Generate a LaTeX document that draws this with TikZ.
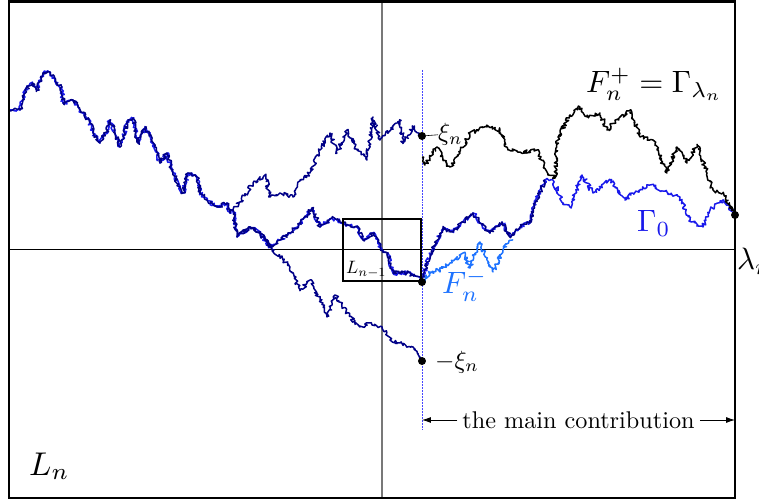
\documentclass[tikz,border=0pt]{standalone}
\usepackage{graphicx}
\usetikzlibrary{decorations.pathmorphing,arrows.meta}
\definecolor{navyc}{RGB}{0,0,135}
\definecolor{gblue}{RGB}{25,25,235}
\definecolor{fblue}{RGB}{30,115,255}
\definecolor{dashb}{RGB}{70,70,255}
\definecolor{axgray}{RGB}{120,120,120}
\newcommand\sbig[1]{\scalebox{3.1}{#1}}
\newcommand\sln[1]{\scalebox{3.3}{#1}}
\newcommand\sxi[1]{\scalebox{2.5}{#1}}
\newcommand\stxt[1]{\scalebox{2.43}{#1}}
\newcommand\ssml[1]{\scalebox{1.8}{#1}}
\tikzset{
  bm/.style={line width=1.5pt, line join=round, decorate,
    decoration={random steps, segment length=1.5pt, amplitude=2.1pt}},
  dot/.style={circle, fill=black, inner sep=0pt, minimum size=8pt},
  lbl/.style={inner sep=0pt},
  frame/.style={line width=2.5pt},
}
\begin{document}
\begin{tikzpicture}[x=1bp, y=-1bp]
\useasboundingbox (0,0) rectangle (759,502);
% axes
\draw[axgray, line width=1.3pt] (382,0) -- (382,498);
\draw[black, line width=0.8pt] (10,249) -- (735,249);
% dashed blue line
\draw[dashb, line width=1pt, dash pattern=on 2pt off 1pt] (422,70) -- (422,430);
% Gamma_0 (blue)
\pgfmathsetseed{11}
\draw[bm, gblue] (10,110) -- (20,110) -- (25,90) -- (32,83) -- (37,90) -- (43,73) -- (50,72) -- (57,83) -- (62,87) -- (63,103) -- (73,100) -- (78,107) -- (90,123) -- (93,133) -- (100,143) -- (107,130) -- (110,120) -- (115,133) -- (120,147) -- (128,120) -- (133,118) -- (138,143) -- (145,127) -- (155,147) -- (160,163) -- (167,153) -- (173,173) -- (183,193) -- (188,173) -- (197,177) -- (200,193) -- (207,200) -- (217,207) -- (227,203) -- (230,213) -- (233,210)
 -- (237,237) -- (250,227) -- (260,233) -- (270,247) -- (280,240) -- (290,233) -- (300,223) -- (312,208) -- (320,227) -- (332,218) -- (343,223) -- (357,227) -- (363,240) -- (373,233) -- (382,250) -- (388,253) -- (393,273) -- (407,273) -- (420,277) -- (422,282)
 -- (427,262) -- (435,245) -- (443,228) -- (453,232) -- (463,222) -- (473,213) -- (482,225) -- (490,233) -- (502,222) -- (510,237) -- (520,227) -- (530,223) -- (535,203) -- (545,180) -- (553,180) -- (563,203) -- (570,207) -- (582,175) -- (593,193) -- (610,180) -- (620,193) -- (625,200) -- (633,193) -- (650,185) -- (667,192) -- (680,197) -- (690,220) -- (703,227) -- (710,210) -- (723,200) -- (735,214);
% navy overlays
\pgfmathsetseed{23}
\draw[bm, navyc] (10,110) -- (20,110) -- (25,90) -- (32,83) -- (37,90) -- (43,73) -- (50,72) -- (57,83) -- (62,87) -- (63,103) -- (73,100) -- (78,107) -- (90,123) -- (93,133) -- (100,143) -- (107,130) -- (110,120) -- (115,133) -- (120,147) -- (128,120) -- (133,118) -- (138,143) -- (145,127) -- (155,147) -- (160,163) -- (167,153) -- (173,173) -- (183,193) -- (188,173) -- (197,177) -- (200,193) -- (207,200) -- (217,207) -- (227,203) -- (230,213) -- (233,210)
 -- (240,202) -- (253,183) -- (265,175) -- (270,197) -- (280,193) -- (293,197) -- (300,180) -- (310,173) -- (320,150) -- (330,133) -- (337,153) -- (347,130) -- (357,150) -- (367,160) -- (373,117) -- (380,140) -- (393,127) -- (400,120) -- (403,143) -- (413,127) -- (422,136);
\pgfmathsetseed{37}
\draw[bm, navyc] (233,210) -- (237,237) -- (250,227) -- (260,233) -- (270,247) -- (280,240) -- (290,233) -- (300,223) -- (312,208) -- (320,227) -- (332,218) -- (343,223) -- (357,227) -- (363,240) -- (373,233) -- (382,250) -- (388,253) -- (393,273) -- (407,273) -- (420,277) -- (422,282)
 -- (427,262) -- (435,245) -- (443,228) -- (453,232) -- (463,222) -- (473,213) -- (482,225) -- (490,233) -- (502,222) -- (510,237) -- (520,227) -- (530,223) -- (535,203) -- (545,180);
\pgfmathsetseed{41}
\draw[bm, navyc] (237,237) -- (250,227) -- (260,233) -- (270,247) -- (283,260) -- (290,267) -- (300,290) -- (310,280) -- (320,300) -- (327,317) -- (335,295) -- (347,313) -- (360,327) -- (370,323) -- (382,327) -- (390,340) -- (400,343) -- (413,347) -- (422,360);
% F_n^- (light blue)
\pgfmathsetseed{53}
\draw[bm, fblue] (422,282) -- (430,272) -- (440,270) -- (450,263) -- (460,257) -- (463,253) -- (470,268) -- (477,247) -- (480,242) -- (487,260) -- (493,272) -- (503,250) -- (512,240);
% F_n^+ (black)
\pgfmathsetseed{67}
\draw[bm, black] (422,157) -- (425,165) -- (433,153) -- (437,147) -- (443,160) -- (450,167) -- (460,153) -- (470,133) -- (487,127) -- (500,130) -- (508,150) -- (520,152) -- (537,150) -- (547,172) -- (555,178) -- (558,137) -- (570,115) -- (580,107) -- (587,117) -- (600,113) -- (607,130) -- (620,117) -- (630,110) -- (640,137) -- (653,140) -- (660,157) -- (667,173) -- (677,147) -- (687,163) -- (697,145) -- (707,173) -- (713,190) -- (723,193) -- (735,214);
% frame and small box
\draw[frame] (9,1.5) rectangle (735,498);
\draw[line width=1.8pt] (343,219) rectangle (421,281);
% dots
\node[dot] (xip) at (422,136) {};
\node[dot] (xim) at (422,361) {};
\node[dot] (fm) at (422,282) {};
\node[dot] (lam) at (735,215) {};
% labels
\node[lbl, anchor=base west] (xil) at (438,141) {\sxi{$\xi_n$}};
\draw[line width=0.6pt] (xip) -- (xil.west);
\node[lbl, anchor=base west] (ximl) at (435,368) {\sxi{$-\xi_n$}};
\node[lbl, anchor=base west] (fpl) at (586,93) {\sbig{$F_n^+ = \Gamma_{\lambda_n}$}};
\node[lbl, anchor=base west, text=gblue] (g0) at (637,232) {\sbig{$\Gamma_0$}};
\node[lbl, anchor=base west, text=fblue] (fml) at (442,294) {\sbig{$F_n^-$}};
\node[lbl, anchor=base west] (laml) at (737,270) {\sbig{$\lambda_n$}};
\node[lbl, anchor=base west] (lnm) at (346,274) {\ssml{$L_{n-1}$}};
\node[lbl, anchor=base west] (ln) at (29,475) {\sln{$L_n$}};
% main contribution
\coordinate (mcl) at (422,420);
\coordinate (mcr) at (735,420);
\node[inner sep=5pt] (mc) at (578.5,420) {\stxt{the main contribution}};
\draw[line width=0.8pt, -{Latex[length=9pt,width=6pt]}] (mc.west) -- (mcl);
\draw[line width=0.8pt, -{Latex[length=9pt,width=6pt]}] (mc.east) -- (mcr);
\end{tikzpicture}
\end{document}
